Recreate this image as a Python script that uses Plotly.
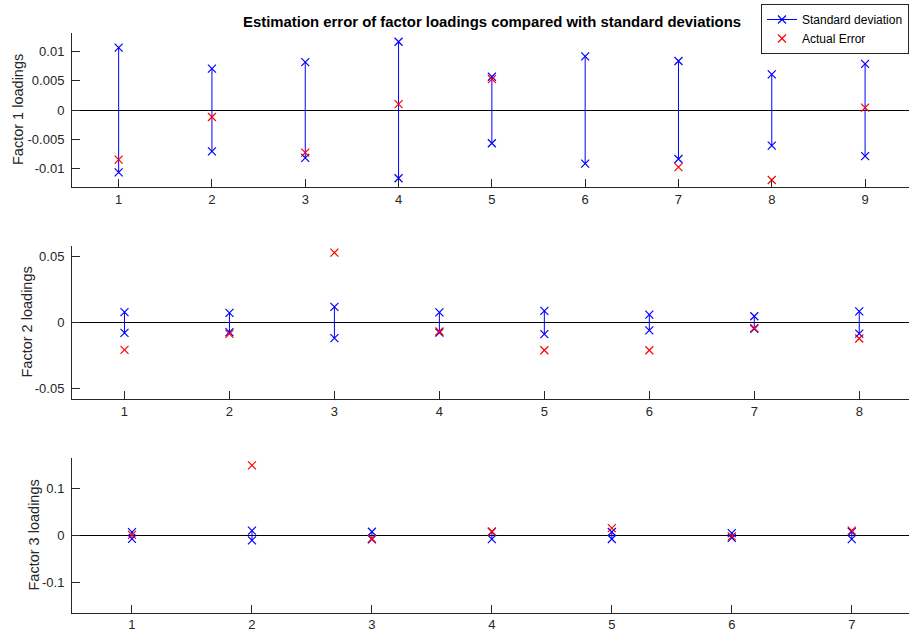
import plotly.graph_objects as go

# ---------------- data ----------------
f1_idx = [1, 2, 3, 4, 5, 6, 7, 8, 9]
f1_sd = [0.0107, 0.0071, 0.0082, 0.0117, 0.0057, 0.0092, 0.0084, 0.0061, 0.0079]
f1_err = [-0.0085, -0.0012, -0.0073, 0.0010, 0.0053, None, -0.0098, -0.0120, 0.0004]

f2_idx = [1, 2, 3, 4, 5, 6, 7, 8]
f2_sd = [0.0078, 0.0073, 0.0118, 0.0077, 0.0088, 0.0060, 0.0047, 0.0084]
f2_err = [-0.0207, -0.0086, 0.0528, -0.0068, -0.0210, -0.0210, -0.0043, -0.0121]

f3_idx = [1, 2, 3, 4, 5, 6, 7]
f3_sd = [0.0071, 0.0103, 0.0080, 0.0077, 0.0075, 0.0050, 0.0078]
f3_err = [0.0015, 0.1500, -0.0070, 0.0086, 0.0158, -0.0020, 0.0105]

y_ticks = [[-0.01, -0.005, 0, 0.005, 0.01], [-0.05, 0, 0.05], [-0.1, 0, 0.1]]
y_ticktext = [["-0.01", "-0.005", "0", "0.005", "0.01"], ["-0.05", "0", "0.05"], ["-0.1", "0", "0.1"]]
y_labels = ["Factor 1 loadings", "Factor 2 loadings", "Factor 3 loadings"]
title_text = "Estimation error of factor loadings compared with standard deviations"

panels = [(f1_idx, f1_sd, f1_err), (f2_idx, f2_sd, f2_err), (f3_idx, f3_sd, f3_err)]

W, H = 909, 637
# pixel geometry of the three plot areas (top, bottom)
panel_px = [(33, 187), (245.7, 399.3), (458.3, 612.7)]
x_left_px = 72
y_label_x_px = [18, 26, 33]

BLUE = "rgb(0,0,255)"
RED = "rgb(255,0,0)"
AX = "#262626"
FONT = "Liberation Sans, Arial, Helvetica, sans-serif"

fig = go.Figure()
layout = dict(
    width=W, height=H,
    margin=dict(l=0, r=0, t=0, b=0),
    paper_bgcolor="white", plot_bgcolor="white",
    font=dict(family=FONT, size=13, color=AX),
    showlegend=True,
    legend=dict(
        x=1.0, xanchor="right", y=1 - 4 / H, yanchor="top",
        bgcolor="white", bordercolor=AX, borderwidth=1,
        font=dict(family=FONT, size=12, color="#000000"),
        tracegroupgap=0, itemwidth=30,
    ),
)
annotations = []

for i, (idx, sd, err) in enumerate(panels):
    n = i + 1
    xa = "x" if n == 1 else f"x{n}"
    ya = "y" if n == 1 else f"y{n}"
    # vertical std-dev segments as one trace with gaps
    xs, ys = [], []
    for k, s in zip(idx, sd):
        xs += [k, k, None]
        ys += [-s, s, None]
    fig.add_trace(go.Scatter(
        x=xs, y=ys, mode="lines+markers", xaxis=xa, yaxis=ya,
        line=dict(color=BLUE, width=1),
        marker=dict(symbol="x-thin-open", size=8, line=dict(color=BLUE, width=1.2), color=BLUE),
        name="Standard deviation", showlegend=(n == 1), connectgaps=False,
    ))
    fig.add_trace(go.Scatter(
        x=idx, y=err, mode="markers", xaxis=xa, yaxis=ya,
        marker=dict(symbol="x-thin-open", size=8, line=dict(color=RED, width=1.2), color=RED),
        name="Actual Error", showlegend=(n == 1),
    ))

    vals = [abs(v) for v in sd + err if v is not None]
    lim = 1.1 * max(vals)
    top_px, bot_px = panel_px[i]
    dom = [1 - bot_px / H, 1 - top_px / H]
    nk = len(idx)
    unit = (W * 1.003 - x_left_px) / nk  # MATLAB axis extends slightly past the window
    x_end = 0.5 + (W - x_left_px) / unit

    layout["xaxis" + ("" if n == 1 else str(n))] = dict(
        domain=[x_left_px / W, 1], range=[0.5, x_end], anchor=ya,
        tickvals=idx, ticktext=[str(k) for k in idx],
        ticks="inside", ticklen=8, tickcolor=AX, tickwidth=1,
        showline=True, linecolor=AX, linewidth=1, mirror=False,
        showgrid=False, zeroline=False, automargin=False,
        tickfont=dict(family=FONT, size=13, color=AX),
    )
    layout["yaxis" + ("" if n == 1 else str(n))] = dict(
        domain=dom, range=[-lim, lim], anchor=xa,
        tickvals=y_ticks[i], ticktext=y_ticktext[i],
        ticks="inside", ticklen=8, tickcolor=AX, tickwidth=1,
        showline=True, linecolor=AX, linewidth=1, mirror=False,
        showgrid=False, zeroline=True, zerolinecolor="black", zerolinewidth=1,
        automargin=False, ticklabelstandoff=4,
        tickfont=dict(family=FONT, size=13, color=AX),
    )
    annotations.append(dict(
        text=y_labels[i], xref="paper", yref="paper",
        x=y_label_x_px[i] / W, y=1 - (top_px + bot_px) / 2 / H,
        xanchor="center", yanchor="middle", textangle=-90, showarrow=False,
        font=dict(family=FONT, size=14.5, color=AX),
    ))

annotations.append(dict(
    text="<b>" + title_text + "</b>", xref="paper", yref="paper",
    x=492 / W, y=1 - 22 / H, xanchor="center", yanchor="middle", showarrow=False,
    font=dict(family=FONT, size=14.9, color="#000000"),
))
layout["annotations"] = annotations
fig.update_layout(**layout)
fig.write_html(
    "out.html",
    config={"displayModeBar": False},
    post_script="document.body.style.margin='0';document.body.style.overflow='hidden';",
)
